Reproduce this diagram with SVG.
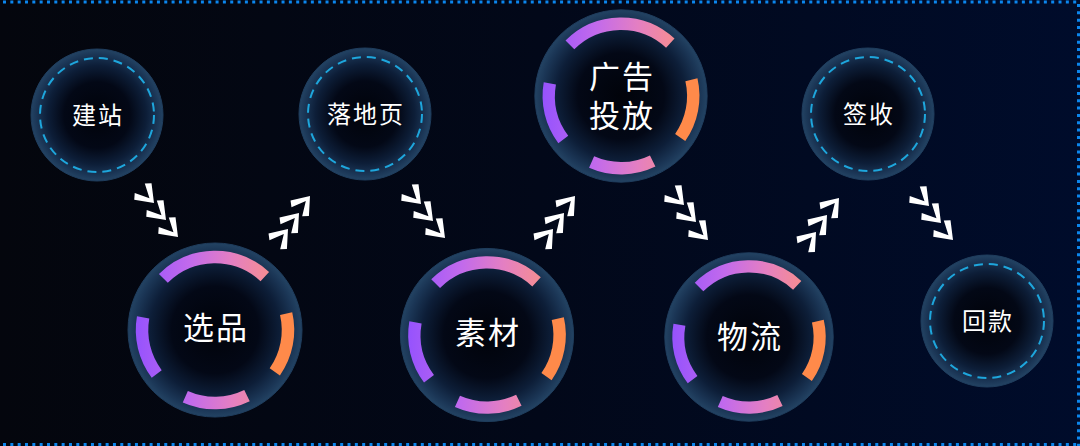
<svg xmlns="http://www.w3.org/2000/svg" xmlns:xlink="http://www.w3.org/1999/xlink" width="1080" height="446" viewBox="0 0 1080 446">
  <defs>
    <style>
      .lbl { fill: #ffffff; font-family: "Noto Sans CJK SC", "Noto Sans", sans-serif; text-anchor: middle; }
      .sm { font-size: 24px; letter-spacing: 2px; }
      .lg { font-size: 31px; letter-spacing: 2px; }
      .dash { fill: none; stroke: #1ea6dc; stroke-width: 2; stroke-dasharray: 9 6; }
      .arc { fill: none; stroke-width: 12.5; stroke-linecap: butt; }
      .chev { fill: #ffffff; }
      .dots { stroke: #0b86ee; stroke-width: 3; stroke-dasharray: 3 4.33; fill: none; }
    </style>
    <linearGradient id="bg" x1="0" y1="0" x2="1" y2="0">
      <stop offset="0" stop-color="#04060d"/>
      <stop offset="0.5" stop-color="#020819"/>
      <stop offset="1" stop-color="#000c2b"/>
    </linearGradient>
    <radialGradient id="disc" cx="0.5" cy="0.5" r="0.5">
      <stop offset="0" stop-color="#01030a"/>
      <stop offset="0.5" stop-color="#030816"/>
      <stop offset="0.75" stop-color="#0d1e38"/>
      <stop offset="0.92" stop-color="#1b3656"/>
      <stop offset="1" stop-color="#234363"/>
    </radialGradient>
    <linearGradient id="arcGrad" gradientUnits="userSpaceOnUse" x1="-85" y1="0" x2="85" y2="0">
      <stop offset="0" stop-color="#9150ff"/>
      <stop offset="0.35" stop-color="#c26aec"/>
      <stop offset="0.6" stop-color="#e47fc2"/>
      <stop offset="0.8" stop-color="#f48c96"/>
      <stop offset="1" stop-color="#ff8c50"/>
    </linearGradient>
    <g id="smallRing">
      <circle r="66" fill="url(#disc)" stroke="#1f3d5d" stroke-width="1"/>
      <circle r="57" class="dash"/>
    </g>
    <g id="bigRing">
      <circle r="87" fill="url(#disc)" stroke="#1f3d5d" stroke-width="1"/>
      <path class="arc" stroke="url(#arcGrad)" d="M -51.62 -51.62 A 73 73 0 0 1 49.79 -53.39"/>
      <path class="arc" stroke="#ff8a4a" d="M 71.13 -16.42 A 73 73 0 0 1 59.80 41.87"/>
      <path class="arc" stroke="url(#arcGrad)" d="M 32.00 65.61 A 73 73 0 0 1 -29.69 66.69"/>
      <path class="arc" stroke="url(#arcGrad)" d="M -58.30 43.93 A 73 73 0 0 1 -71.89 -12.68"/>
    </g>
    <polygon id="chev" class="chev" points="0,0 -16,-12 -20.5,-7 -6.5,0 -20.5,7 -16,12"/>
  </defs>

  <rect width="1080" height="446" fill="url(#bg)"/>
  <g id="frame">
    <line class="dots" x1="3" y1="2" x2="1080" y2="2"/>
    <line class="dots" x1="3" y1="444.5" x2="1080" y2="444.5"/>
    <line class="dots" x1="1078.5" y1="4" x2="1078.5" y2="446"/>
  </g>

  <g id="connectors">
    <g id="c1">
      <use xlink:href="#chev" transform="translate(154,203) rotate(46)"/>
      <use xlink:href="#chev" transform="translate(166,220) rotate(46)"/>
      <use xlink:href="#chev" transform="translate(178,237) rotate(46)"/>
    </g>
    <g id="c2">
      <use xlink:href="#chev" transform="translate(310,196) rotate(-50)"/>
      <use xlink:href="#chev" transform="translate(299,213) rotate(-50)"/>
      <use xlink:href="#chev" transform="translate(288,229) rotate(-50)"/>
    </g>
    <g id="c3">
      <use xlink:href="#chev" transform="translate(421,204) rotate(46)"/>
      <use xlink:href="#chev" transform="translate(433,221) rotate(46)"/>
      <use xlink:href="#chev" transform="translate(445,238) rotate(46)"/>
    </g>
    <g id="c4">
      <use xlink:href="#chev" transform="translate(575,196) rotate(-50)"/>
      <use xlink:href="#chev" transform="translate(564,213) rotate(-50)"/>
      <use xlink:href="#chev" transform="translate(553,229) rotate(-50)"/>
    </g>
    <g id="c5">
      <use xlink:href="#chev" transform="translate(684,205) rotate(46)"/>
      <use xlink:href="#chev" transform="translate(696,222) rotate(46)"/>
      <use xlink:href="#chev" transform="translate(708,240) rotate(46)"/>
    </g>
    <g id="c6">
      <use xlink:href="#chev" transform="translate(839,198) rotate(-50)"/>
      <use xlink:href="#chev" transform="translate(827,215) rotate(-50)"/>
      <use xlink:href="#chev" transform="translate(816,232) rotate(-50)"/>
    </g>
    <g id="c7">
      <use xlink:href="#chev" transform="translate(929,206) rotate(46)"/>
      <use xlink:href="#chev" transform="translate(941,223) rotate(46)"/>
      <use xlink:href="#chev" transform="translate(953,240) rotate(46)"/>
    </g>
  </g>

  <g id="node-jianzhan" transform="translate(97,115)">
    <use xlink:href="#smallRing"/>
    <text class="lbl sm" x="1" y="8.5">建站</text>
  </g>
  <g id="node-luodiye" transform="translate(365,114)">
    <use xlink:href="#smallRing"/>
    <text class="lbl sm" x="1" y="8.5">落地页</text>
  </g>
  <g id="node-qianshou" transform="translate(868,114)">
    <use xlink:href="#smallRing"/>
    <text class="lbl sm" x="1" y="8.5">签收</text>
  </g>
  <g id="node-huikuan" transform="translate(987,321)">
    <use xlink:href="#smallRing"/>
    <text class="lbl sm" x="1" y="8.5">回款</text>
  </g>

  <g id="node-xuanpin" transform="translate(215,330)">
    <use xlink:href="#bigRing"/>
    <text class="lbl lg" x="1" y="9">选品</text>
  </g>
  <g id="node-sucai" transform="translate(487,335)">
    <use xlink:href="#bigRing" transform="scale(0.995)"/>
    <text class="lbl lg" x="1" y="9">素材</text>
  </g>
  <g id="node-wuliu" transform="translate(749,337)">
    <use xlink:href="#bigRing" transform="scale(0.968)"/>
    <text class="lbl lg" x="1" y="11">物流</text>
  </g>
  <g id="node-guanggao" transform="translate(621,96)">
    <use xlink:href="#bigRing" transform="scale(0.99)"/>
    <text class="lbl lg" style="font-size:31px"><tspan x="1" y="-8">广告</tspan><tspan x="1" y="31">投放</tspan></text>
  </g>
</svg>
